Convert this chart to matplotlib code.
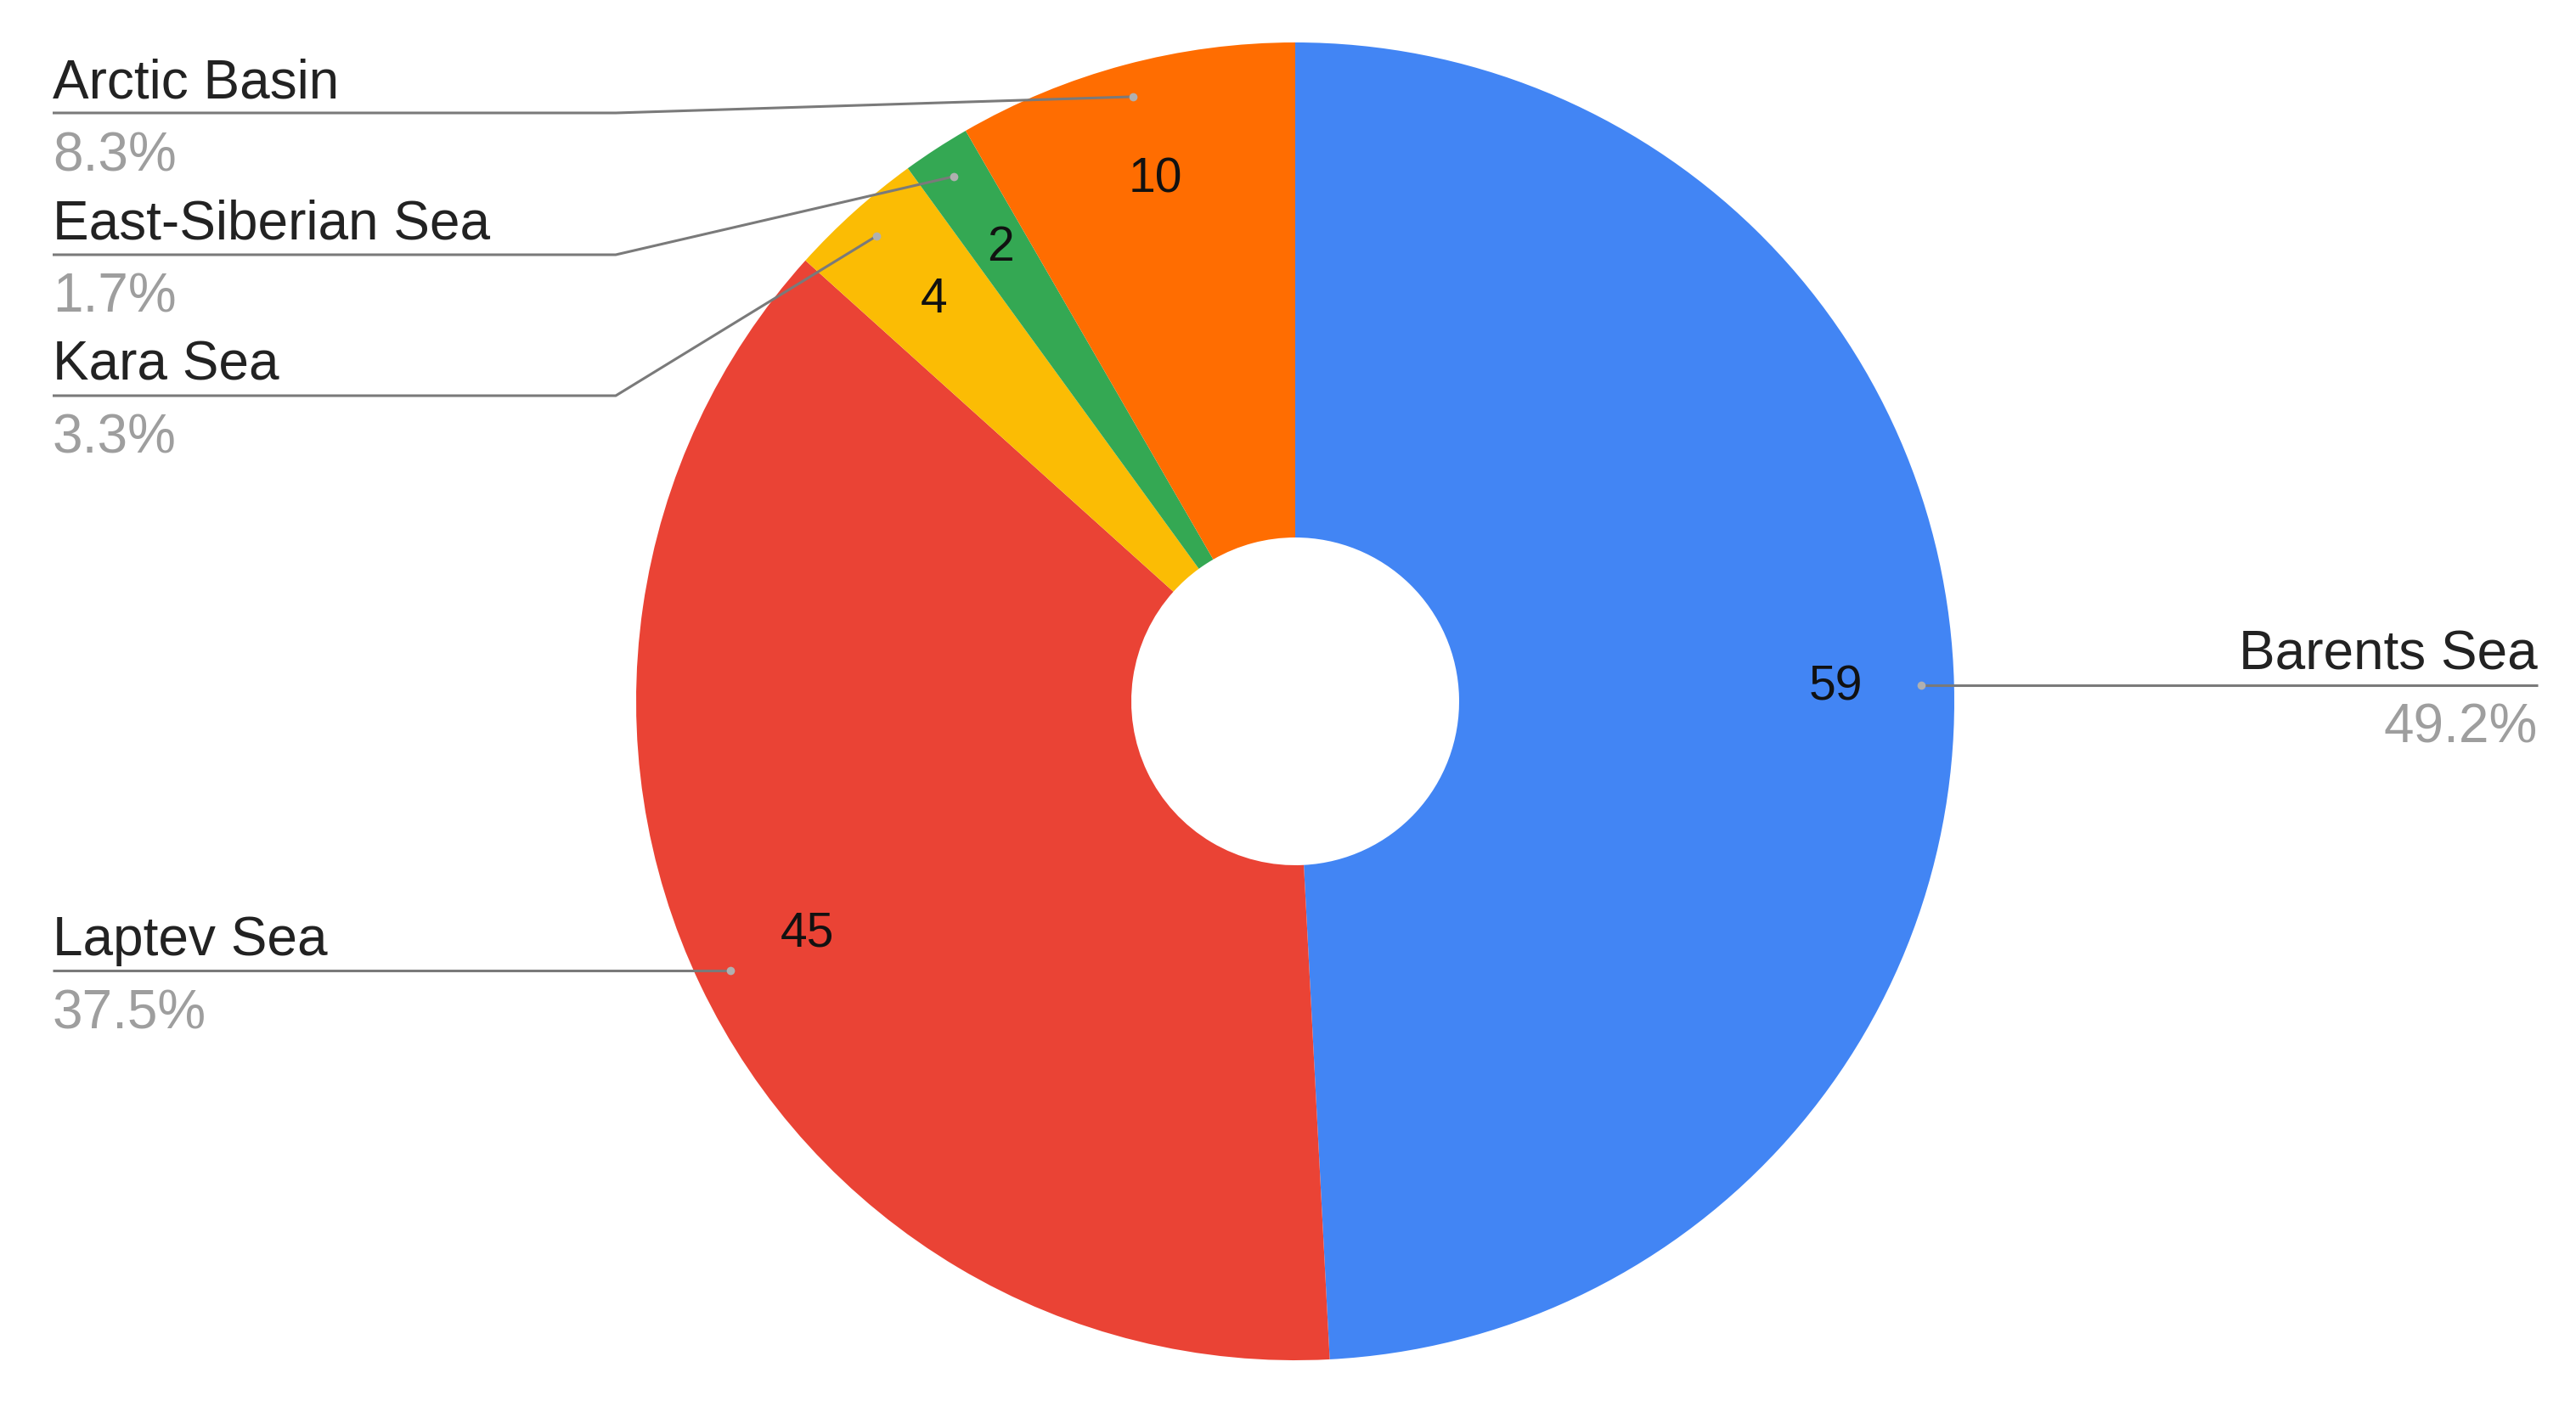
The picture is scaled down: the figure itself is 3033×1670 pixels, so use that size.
import numpy as np
import matplotlib.pyplot as plt

plt.rcParams['font.family'] = ['Liberation Sans', 'DejaVu Sans']

seas = ['Barents Sea', 'Laptev Sea', 'Kara Sea', 'East-Siberian Sea', 'Arctic Basin']
counts = [59, 45, 4, 2, 10]
colors = ['#4285F4', '#EA4335', '#FBBC04', '#34A853', '#FF6D01']

W, H = 3033, 1670
cx, cy = 1525, H - 826
R = 776
hole = 193

# leader layout for the crowded small slices (y of horizontal run, px from top)
bent_y = {'Kara Sea': 466, 'East-Siberian Sea': 300, 'Arctic Basin': 133}
elbow_x = 725
left_x, right_x = 62, 2988

fig = plt.figure(figsize=(W / 100, H / 100), dpi=100)
ax = fig.add_axes([0, 0, 1, 1])

ax.pie(counts, colors=colors, startangle=90, counterclock=False,
       radius=R, center=(cx, cy), wedgeprops=dict(width=R - hole, linewidth=0))

ax.set_xlim(0, W)
ax.set_ylim(0, H)
ax.set_aspect('equal')
ax.axis('off')

total = sum(counts)
cum = 0
for name, v in zip(seas, counts):
    mid = np.deg2rad(90 - 360 * (cum + v / 2) / total)
    cum += v

    # value inside the ring
    ax.text(cx + 0.82 * R * np.cos(mid), cy + 0.82 * R * np.sin(mid), str(v),
            ha='center', va='center', fontsize=41, color='#111111')

    # leader line
    dx, dy = cx + 0.95 * R * np.cos(mid), cy + 0.95 * R * np.sin(mid)
    right = np.cos(mid) > 0
    if name in bent_y:
        ly = H - bent_y[name]
        xs, ys = [dx, elbow_x, left_x], [dy, ly, ly]
    else:
        ly = dy
        xs, ys = [dx, right_x if right else left_x], [dy, dy]
    ax.plot(xs, ys, color='#7a7a7a', lw=2.2, solid_capstyle='butt', zorder=3)
    ax.plot(dx, dy, 'o', color='#b0b0b0', ms=7, mec='none', zorder=4)

    tx = right_x if right else left_x
    ha = 'right' if right else 'left'
    ax.text(tx, ly + 18, name, ha=ha, va='baseline', fontsize=46, color='#222222')
    ax.text(tx, ly - 68, f"{100 * v / total:.1f}%", ha=ha, va='baseline',
            fontsize=46, color='#9e9e9e')

fig.savefig('out.png', dpi=100, facecolor='white')
